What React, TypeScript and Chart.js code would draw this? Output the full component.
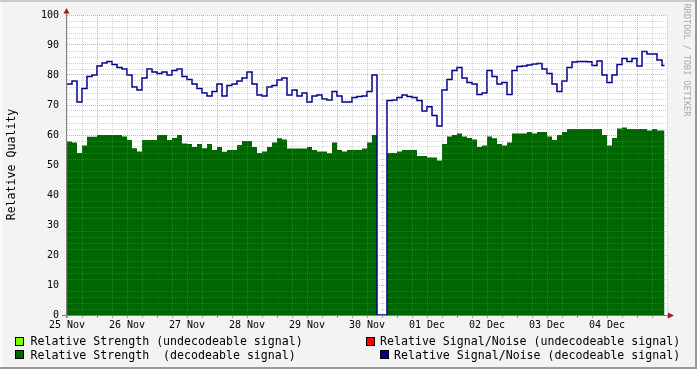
import React, { useEffect, useRef } from 'react';
import { Chart, registerables } from 'chart.js';

Chart.register(...registerables);

// ---- data (one sample every 2 hours, starting 25 Nov 00:00) ----
const STEP_HOURS = 2;
const END_HOUR = 239;
const dayLabels = ['25 Nov', '26 Nov', '27 Nov', '28 Nov', '29 Nov', '30 Nov', '01 Dec', '02 Dec', '03 Dec', '04 Dec'];
const yTicks = [0, 10, 20, 30, 40, 50, 60, 70, 80, 90, 100];

const signalNoise = [
  77, 78, 71, 75.5, 79.5, 80, 83, 84, 84.5, 83.5,
  82.5, 82, 80, 76, 75, 79, 82, 81, 80.5, 81,
  80, 81.5, 82, 79.5, 78.5, 77, 75.5, 74, 73, 74.5,
  77, 73, 76.5, 77, 78, 79, 81, 77, 73.3, 73,
  76, 76.5, 78.3, 79, 73.3, 75, 73, 74, 71, 73,
  73.3, 72, 71.7, 74.5, 73, 71, 71, 72.5, 72.8, 73,
  74.5, 80, 0, 0, 71.5, 71.7, 72.5, 73.3, 72.8, 72.5,
  71.5, 68, 69.4, 66.5, 63, 75, 78.5, 81.5, 82.5, 79,
  77.5, 77, 73.5, 74, 81.5, 79.5, 77, 77.5, 73.5, 81.5,
  82.8, 83, 83.3, 83.7, 83.8, 82, 80.5, 77, 74.5, 78,
  82.5, 84.3, 84.5, 84.5, 84.4, 83.2, 84.7, 80, 77.5, 80,
  83.5, 85.5, 84.5, 85.5, 83, 87.8, 87, 87, 85, 83.2,
];

const strength = [
  57.8, 57.5, 54, 56.5, 59.4, 59.4, 60, 60, 60, 60,
  60, 59.5, 58.3, 55.6, 54.5, 58.3, 58.3, 58.3, 60, 60,
  58.3, 59, 60, 57.2, 57, 56, 57, 55.6, 57, 55,
  56, 54.4, 55, 55, 56.7, 58, 58, 56, 54, 54.5,
  56, 57.5, 58.9, 58.5, 55.5, 55.5, 55.5, 55.5, 56, 55,
  54.5, 54.5, 53.9, 57.5, 55, 54.5, 55, 55, 55, 55.5,
  57.5, 60, 0, 0, 54, 54, 54.5, 55, 55, 55,
  53, 53, 52.5, 52.5, 51.5, 57, 59.5, 60, 60.5, 59.5,
  59, 58.5, 56, 56.5, 59.5, 58.9, 57, 56.5, 57.5, 60.5,
  60.5, 60.5, 61, 60.5, 61, 61, 59.5, 58.3, 60, 61,
  62, 62, 62, 62, 62, 62, 62, 60, 56.5, 59,
  62.2, 62.5, 62, 62, 62, 62, 61.5, 62, 61.5, 61.5,
];

const legendItems = [
  { label: 'Relative Strength (undecodeable signal)', color: '#7fff00' },
  { label: 'Relative Strength  (decodeable signal)', color: '#006600' },
  { label: 'Relative Signal/Noise (undecodeable signal)', color: '#ff0000' },
  { label: 'Relative Signal/Noise (decodeable signal)', color: '#00008b' },
];

const MONO = "'DejaVu Sans Mono', monospace";
const MINOR = 'rgba(140,140,140,0.38)';
const MAJOR = 'rgba(150,40,40,0.38)';

const toPoints = (arr: number[]) =>
  arr.map((v, i) => ({ x: i * STEP_HOURS, y: v })).concat([{ x: END_HOUR, y: arr[arr.length - 1] }]);

const rangeTicks = (min: number, max: number, step: number) => {
  const out: { value: number }[] = [];
  for (let v = min; v <= max; v += step) out.push({ value: v });
  return out;
};

const framePlugin = {
  id: 'rrdFrame',
  beforeDraw(chart: any) {
    const { ctx, width, height, chartArea: a } = chart;
    ctx.save();
    ctx.fillStyle = '#f3f3f3';
    ctx.fillRect(0, 0, width, height);
    ctx.fillStyle = '#cbcbcb';
    ctx.fillRect(0, 0, width, 2);
    ctx.fillStyle = '#fbfbfb';
    ctx.fillRect(0, 2, 2, height - 2);
    ctx.fillStyle = '#999999';
    ctx.fillRect(0, height - 2, width, 2);
    ctx.fillRect(width - 2, 0, 2, height);
    ctx.fillStyle = '#ffffff';
    ctx.fillRect(a.left, a.top, a.right - a.left, a.bottom - a.top);
    ctx.restore();
  },
  afterDraw(chart: any) {
    const { ctx, chartArea: a } = chart;
    ctx.save();
    ctx.strokeStyle = '#808080';
    ctx.lineWidth = 1;
    ctx.beginPath();
    ctx.moveTo(a.left - 0.5, a.top - 2);
    ctx.lineTo(a.left - 0.5, a.bottom + 3);
    ctx.moveTo(a.left - 5, a.bottom + 0.5);
    ctx.lineTo(a.right + 2, a.bottom + 0.5);
    ctx.stroke();
    ctx.fillStyle = '#a01e1e';
    ctx.beginPath();
    ctx.moveTo(a.left - 3.5, a.top - 1.5);
    ctx.lineTo(a.left + 2.5, a.top - 1.5);
    ctx.lineTo(a.left - 0.5, a.top - 7);
    ctx.closePath();
    ctx.fill();
    ctx.beginPath();
    ctx.moveTo(a.right + 1, a.bottom - 2.5);
    ctx.lineTo(a.right + 1, a.bottom + 3.5);
    ctx.lineTo(a.right + 7, a.bottom + 0.5);
    ctx.closePath();
    ctx.fill();
    ctx.restore();
  },
};

export default function App() {
  const ref = useRef<HTMLCanvasElement>(null);

  useEffect(() => {
    const canvas = ref.current;
    if (!canvas) return;
    const chart = new Chart(canvas, {
      type: 'line',
      data: {
        datasets: [
          {
            label: legendItems[3].label,
            data: toPoints(signalNoise),
            borderColor: legendItems[3].color,
            borderWidth: 1.5,
            stepped: true,
            fill: false,
            pointRadius: 0,
          },
          {
            label: legendItems[1].label,
            data: toPoints(strength),
            borderColor: legendItems[1].color,
            backgroundColor: legendItems[1].color,
            borderWidth: 0,
            stepped: true,
            fill: 'origin',
            pointRadius: 0,
          },
        ],
      },
      options: {
        responsive: false,
        animation: false,
        devicePixelRatio: 1,
        layout: { padding: { left: 0, top: 15, right: 30, bottom: 0 } },
        plugins: { legend: { display: false }, tooltip: { enabled: false } },
        scales: {
          x: {
            type: 'linear',
            min: 0,
            max: 240,
            afterBuildTicks: (s: any) => { s.ticks = rangeTicks(0, 240, 6); },
            afterFit: (s: any) => { s.height = 54; },
            border: { display: false, dash: [1, 1] },
            grid: {
              z: 1,
              color: (c: any) => (c.tick && c.tick.value % 24 === 12 ? MAJOR : MINOR),
              tickColor: (c: any) => (c.tick && c.tick.value % 24 === 12 ? 'rgba(160,40,40,0.6)' : 'rgba(120,120,120,0.6)'),
              tickBorderDash: [],
              tickLength: 3,
              drawTicks: true,
            },
            ticks: {
              autoSkip: false,
              maxRotation: 0,
              minRotation: 0,
              padding: 1,
              color: '#000',
              font: { family: MONO, size: 10 },
              callback: (v: any) => {
                const n = Number(v);
                return n % 24 === 0 && n / 24 < dayLabels.length ? dayLabels[n / 24] : '';
              },
            },
          },
          y: {
            type: 'linear',
            min: 0,
            max: 100,
            afterBuildTicks: (s: any) => { s.ticks = rangeTicks(0, 100, 2); },
            afterFit: (s: any) => { s.width = 67; },
            border: { display: false, dash: [1, 1] },
            grid: {
              z: 1,
              color: (c: any) => (c.tick && c.tick.value % 10 === 0 ? MAJOR : MINOR),
              drawTicks: false,
            },
            ticks: {
              autoSkip: false,
              padding: 8,
              color: '#000',
              font: { family: MONO, size: 10 },
              callback: (v: any) => (yTicks.includes(Number(v)) ? String(v) : ''),
            },
          },
        },
      },
      plugins: [framePlugin],
    } as any);
    return () => chart.destroy();
  }, []);

  const textBase: React.CSSProperties = {
    position: 'absolute',
    fontFamily: MONO,
    fontSize: '11.6px',
    lineHeight: '13px',
    color: '#000',
    whiteSpace: 'pre',
  };
  const box = (color: string, left: number, top: number): React.CSSProperties => ({
    position: 'absolute',
    left,
    top,
    width: 9,
    height: 9,
    boxSizing: 'border-box',
    border: '1px solid #000',
    background: color,
  });

  return (
    <div style={{ position: 'absolute', left: 0, top: 0, width: 697, height: 369, overflow: 'hidden' }}>
      <canvas ref={ref} width={697} height={369} style={{ display: 'block', width: 697, height: 369 }} />
      <div
        style={{
          ...textBase,
          left: 10.7 - 100,
          top: 164.5 - 6.5,
          width: 200,
          textAlign: 'center',
          transform: 'rotate(-90deg)',
        }}
      >
        Relative Quality
      </div>
      <div
        style={{
          position: 'absolute',
          fontFamily: MONO,
          fontSize: '8.5px',
          lineHeight: '10px',
          color: '#a8a8a8',
          whiteSpace: 'pre',
          left: 687 - 100,
          top: 60 - 5,
          width: 200,
          textAlign: 'center',
          transform: 'rotate(90deg)',
        }}
      >
        RRDTOOL / TOBI OETIKER
      </div>
      <div style={box(legendItems[0].color, 15, 337)} />
      <div style={{ ...textBase, left: 30.5, top: 335.2 }}>{legendItems[0].label}</div>
      <div style={box(legendItems[1].color, 15, 350.3)} />
      <div style={{ ...textBase, left: 30.5, top: 348.5 }}>{legendItems[1].label}</div>
      <div style={box(legendItems[2].color, 365.5, 337)} />
      <div style={{ ...textBase, left: 380, top: 335.2 }}>{legendItems[2].label}</div>
      <div style={box(legendItems[3].color, 379.5, 350.3)} />
      <div style={{ ...textBase, left: 394, top: 348.5 }}>{legendItems[3].label}</div>
    </div>
  );
}
